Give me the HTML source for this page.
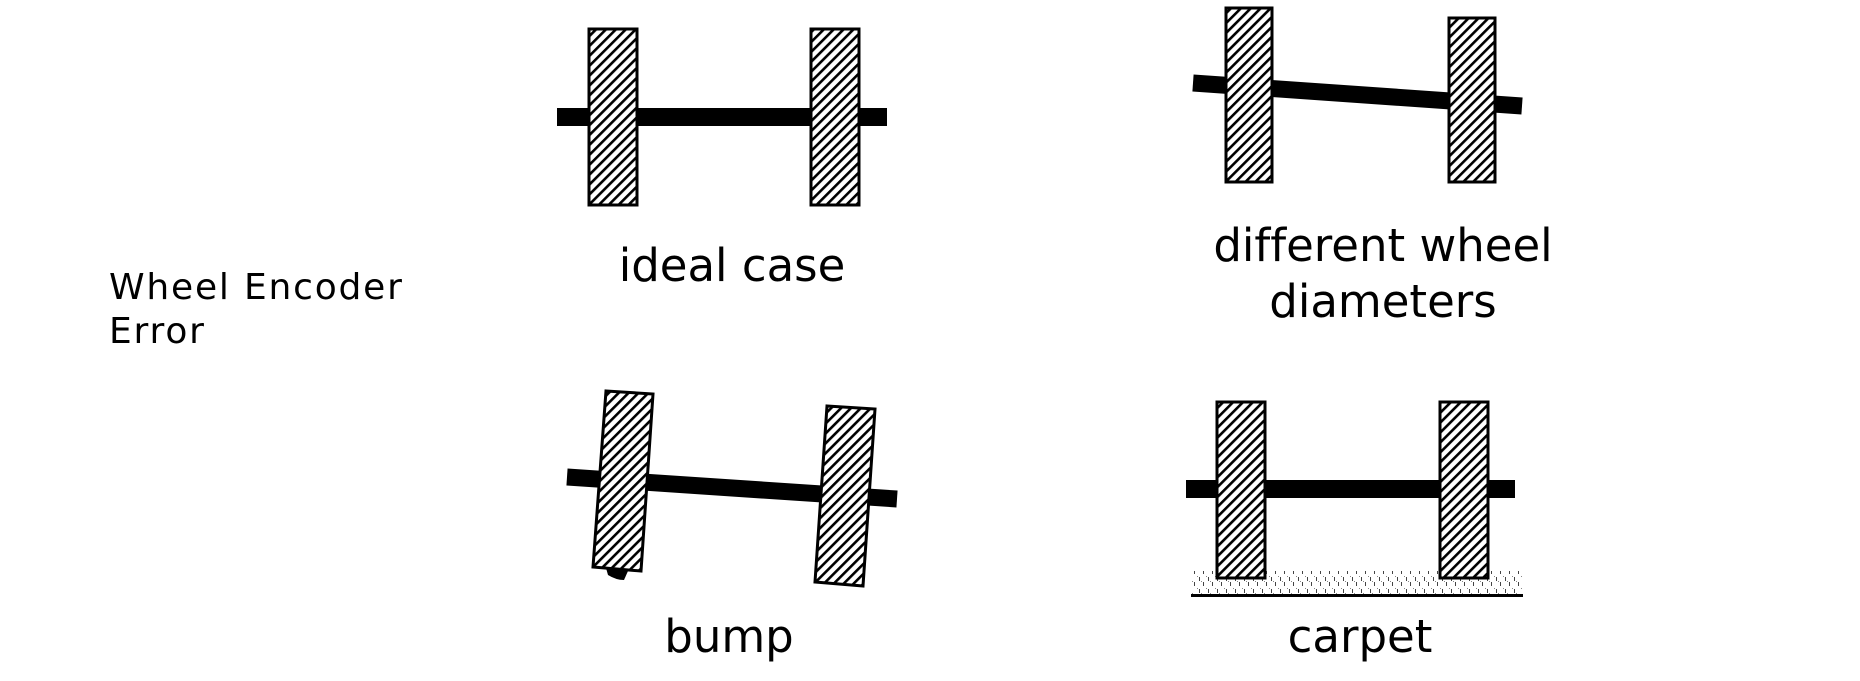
<!DOCTYPE html>
<html><head><meta charset="utf-8"><style>
html,body{margin:0;padding:0;background:#fff;}
svg{display:block;}
text{font-family:"DejaVu Sans","Liberation Sans",sans-serif;fill:#000;font-variant-ligatures:none;}
</style></head><body>
<svg width="1860" height="681" viewBox="0 0 1860 681" xmlns="http://www.w3.org/2000/svg">
<defs>
<pattern id="h" width="7" height="7" patternUnits="userSpaceOnUse" patternTransform="rotate(45)">
<rect width="7" height="7" fill="#fff"/><rect x="0" y="0" width="2.6" height="7" fill="#000"/>
</pattern>
<pattern id="c" width="9" height="12" patternUnits="userSpaceOnUse">
<rect width="9" height="12" fill="#fff"/>
<rect x="2" y="1" width="1" height="4" fill="#444"/>
<rect x="6" y="6" width="1" height="4" fill="#444"/>
<rect x="0" y="0" width="1" height="1" fill="#888"/>
<rect x="4" y="5" width="1" height="1" fill="#888"/>
</pattern>
</defs>

<text x="109" y="299" font-size="36" letter-spacing="1.8">Wheel Encoder</text>
<text x="109" y="343" font-size="36" letter-spacing="1.8">Error</text>

<!-- ideal -->
<rect x="557" y="108" width="330" height="18" fill="#000"/>
<rect x="589" y="29" width="48" height="176" fill="url(#h)" stroke="#000" stroke-width="3"/>
<rect x="811" y="29" width="48" height="176" fill="url(#h)" stroke="#000" stroke-width="3"/>
<text x="732" y="281" font-size="45" text-anchor="middle">ideal case</text>

<!-- different diameters -->
<line x1="1193" y1="83" x2="1522" y2="106" stroke="#000" stroke-width="17"/>
<rect x="1226" y="8" width="46" height="174" fill="url(#h)" stroke="#000" stroke-width="3"/>
<rect x="1449" y="18" width="46" height="164" fill="url(#h)" stroke="#000" stroke-width="3"/>
<text x="1383" y="261" font-size="45" text-anchor="middle">different wheel</text>
<text x="1383" y="317" font-size="45" text-anchor="middle">diameters</text>

<!-- bump -->
<line x1="567" y1="477" x2="897" y2="499" stroke="#000" stroke-width="17"/>
<path d="M606 568 L628 571 L624 580 Q616 580 608 575 Z" fill="#000"/>
<polygon points="606,391 653,394 641,571 593,567" fill="url(#h)" stroke="#000" stroke-width="3"/>
<polygon points="827,406 875,409 863,586 815,582" fill="url(#h)" stroke="#000" stroke-width="3"/>
<text x="729" y="652" font-size="45" text-anchor="middle">bump</text>

<!-- carpet -->
<rect x="1186" y="480" width="329" height="18" fill="#000"/>
<rect x="1191" y="571" width="331" height="23" fill="url(#c)"/>
<rect x="1217" y="402" width="48" height="176" fill="url(#h)" stroke="#000" stroke-width="3"/>
<rect x="1440" y="402" width="48" height="176" fill="url(#h)" stroke="#000" stroke-width="3"/>
<rect x="1191" y="594" width="332" height="3" fill="#000"/>
<text x="1360" y="652" font-size="45" text-anchor="middle">carpet</text>
</svg>
</body></html>
